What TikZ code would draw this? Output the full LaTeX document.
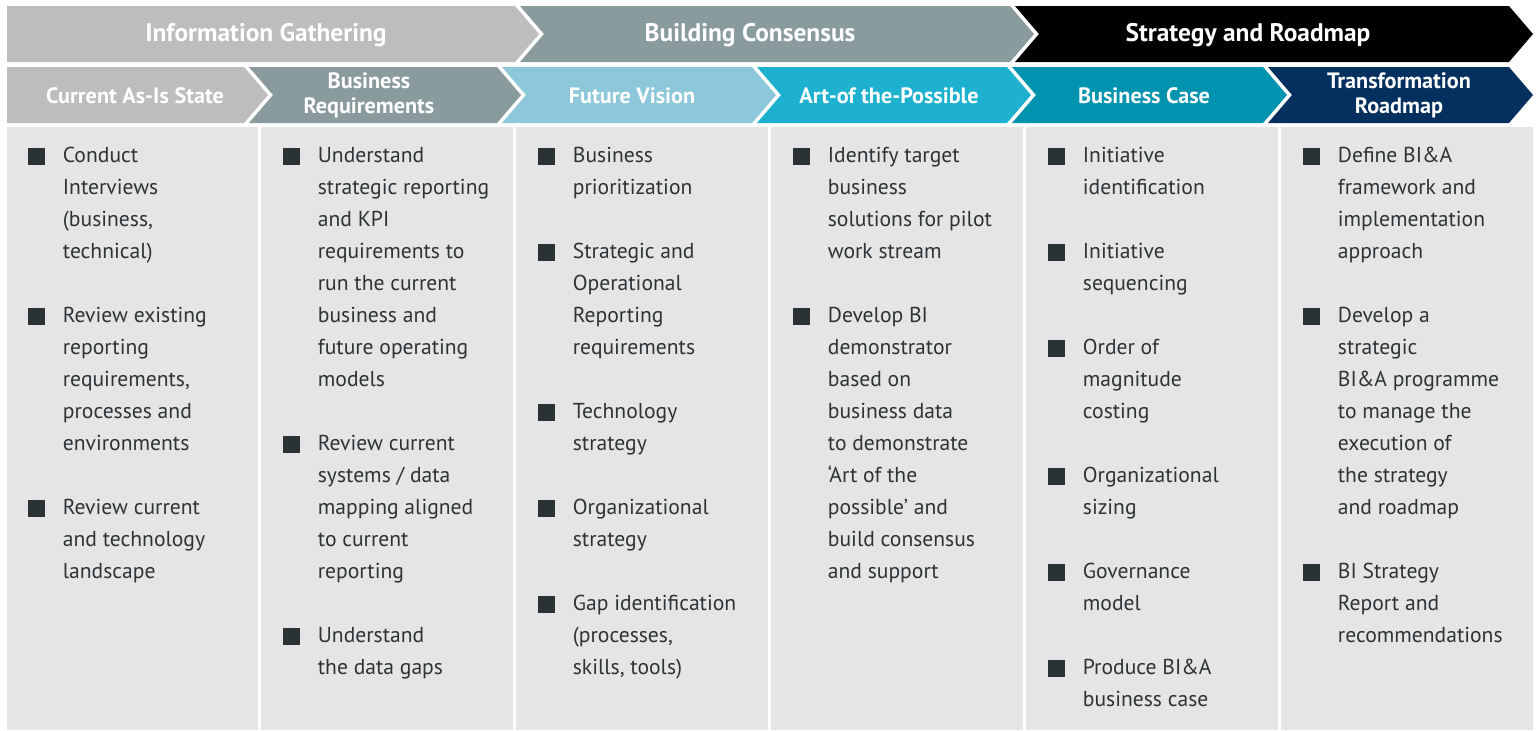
\documentclass[tikz,border=0pt]{standalone}
\usepackage{fontspec}
\setmainfont{PT Sans}
\usepackage{tikz}

\definecolor{gathergray}{HTML}{BDBDBD}
\definecolor{consensgray}{HTML}{8A9B9E}
\definecolor{visionblue}{HTML}{8CC8DA}
\definecolor{possiblecyan}{HTML}{1DB1CF}
\definecolor{caseteal}{HTML}{0093B0}
\definecolor{roadnavy}{HTML}{03305F}
\definecolor{bodygray}{HTML}{E5E5E5}
\definecolor{bodytext}{HTML}{2D3336}
\definecolor{bulletgray}{HTML}{2B3236}

% square bullet hanging left of the first line, with a fixed first-line height
\newcommand{\bsq}{\llap{\textcolor{bulletgray}{\rule[-1.5pt]{8.5pt}{8.5pt}}\hspace{9pt}}\rule{0pt}{9pt}}

\tikzstyle{phase} = [text=white, anchor=base, align=center, inner sep=0pt,
    font=\fontsize{12.7}{15}\selectfont\bfseries]
\tikzstyle{stage} = [text=white, anchor=base, align=center, inner sep=0pt,
    font=\fontsize{11.1}{12.5}\selectfont\bfseries]
\tikzstyle{item} = [anchor=north west, align=left, inner sep=0pt, text=bodytext,
    font=\fontsize{10.8}{16}\selectfont]

\begin{document}
\begin{tikzpicture}[x=0.5pt,y=-0.5pt]
        \useasboundingbox (0,0) rectangle (1539,730);
        % phases
        \fill[gathergray] (7,6) -- (515,6) -- (539,34) -- (515,62) -- (7,62) -- cycle;
        \fill[consensgray] (520,6) -- (1010,6) -- (1034,34) -- (1010,62) -- (520,62) -- (544,34) -- cycle;
        \fill[black] (1015,6) -- (1509,6) -- (1533,34) -- (1509,62) -- (1015,62) -- (1039,34) -- cycle;
        \node[phase] (gather) at (266,41) {Information Gathering};
        \node[phase] (consensus) at (750,41) {Building Consensus};
        \node[phase] (strategy) at (1248,41) {Strategy and Roadmap};
        % stages
        \fill[gathergray] (7,67) -- (244,67) -- (268,95) -- (244,123) -- (7,123) -- cycle;
        \fill[consensgray] (249,67) -- (497,67) -- (521,95) -- (497,123) -- (249,123) -- (273,95) -- cycle;
        \fill[visionblue] (502,67) -- (752,67) -- (776,95) -- (752,123) -- (502,123) -- (526,95) -- cycle;
        \fill[possiblecyan] (757,67) -- (1007,67) -- (1031,95) -- (1007,123) -- (757,123) -- (781,95) -- cycle;
        \fill[caseteal] (1012,67) -- (1263,67) -- (1287,95) -- (1263,123) -- (1012,123) -- (1036,95) -- cycle;
        \fill[roadnavy] (1268,67) -- (1509,67) -- (1533,95) -- (1509,123) -- (1268,123) -- (1292,95) -- cycle;
        \node[stage] (asis) at (135,103) {Current As-Is State};
        \node[stage, anchor=center] (busreq) at (369,95) {Business\\Requirements};
        \node[stage] (vision) at (632,103) {Future Vision};
        \node[stage] (possible) at (889,103) {Art-of the-Possible};
        \node[stage] (buscase) at (1144,103) {Business Case};
        \node[stage, anchor=center] (roadmap) at (1399,95) {Transformation\\Roadmap};
        % columns
        \fill[bodygray] (7,127) rectangle (258,730);
        \fill[bodygray] (261,127) rectangle (513,730);
        \fill[bodygray] (516,127) rectangle (768,730);
        \fill[bodygray] (771,127) rectangle (1023,730);
        \fill[bodygray] (1026,127) rectangle (1278,730);
        \fill[bodygray] (1281,127) rectangle (1533,730);
        % current as-is state
        \node[item] (c1a) at (62.5,144) {\bsq Conduct\\Interviews\\(business,\\technical)};
        \node[item] (c1b) at (62.5,304) {\bsq Review existing\\reporting\\requirements,\\processes and\\environments};
        \node[item] (c1c) at (62.5,496) {\bsq Review current\\and technology\\landscape};
        % business requirements
        \node[item] (c2a) at (317.5,144) {\bsq Understand\\strategic reporting\\and KPI\\requirements to\\run the current\\business and\\future operating\\models};
        \node[item] (c2b) at (317.5,432) {\bsq Review current\\systems / data\\mapping aligned\\to current\\reporting};
        \node[item] (c2c) at (317.5,624) {\bsq Understand\\the data gaps};
        % future vision
        \node[item] (c3a) at (572.5,144) {\bsq Business\\prioritization};
        \node[item] (c3b) at (572.5,240) {\bsq Strategic and\\Operational\\Reporting\\requirements};
        \node[item] (c3c) at (572.5,400) {\bsq Technology\\strategy};
        \node[item] (c3d) at (572.5,496) {\bsq Organizational\\strategy};
        \node[item] (c3e) at (572.5,592) {\bsq Gap identification\\(processes,\\skills, tools)};
        % art of the possible
        \node[item] (c4a) at (827.5,144) {\bsq Identify target\\business\\solutions for pilot\\work stream};
        \node[item] (c4b) at (827.5,304) {\bsq Develop BI\\demonstrator\\based on\\business data\\to demonstrate\\‘Art of the\\possible’ and\\build consensus\\and support};
        % business case
        \node[item] (c5a) at (1082.5,144) {\bsq Initiative\\identification};
        \node[item] (c5b) at (1082.5,240) {\bsq Initiative\\sequencing};
        \node[item] (c5c) at (1082.5,336) {\bsq Order of\\magnitude\\costing};
        \node[item] (c5d) at (1082.5,464) {\bsq Organizational\\sizing};
        \node[item] (c5e) at (1082.5,560) {\bsq Governance\\model};
        \node[item] (c5f) at (1082.5,656) {\bsq Produce BI\&A\\business case};
        % transformation roadmap
        \node[item] (c6a) at (1337.5,144) {\bsq Define BI\&A\\framework and\\implementation\\approach};
        \node[item] (c6b) at (1337.5,304) {\bsq Develop a\\strategic\\BI\&A programme\\to manage the\\execution of\\the strategy\\and roadmap};
        \node[item] (c6c) at (1337.5,560) {\bsq BI Strategy\\Report and\\recommendations};
    \end{tikzpicture}
\end{document}
